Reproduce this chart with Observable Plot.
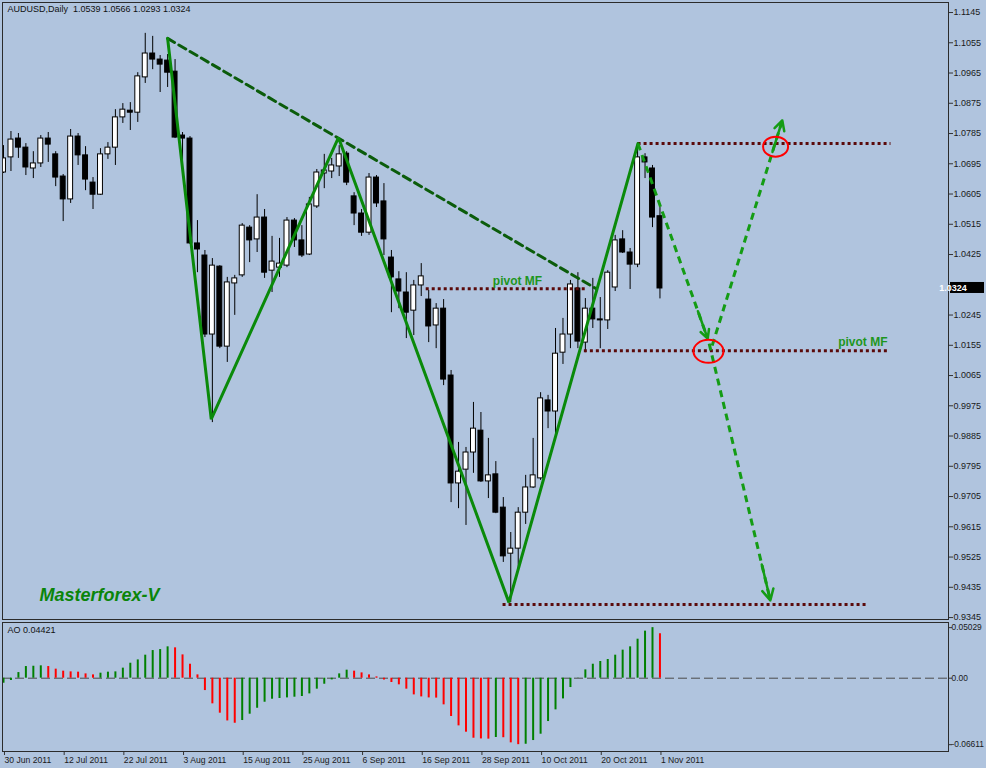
<!DOCTYPE html>
<html><head><meta charset="utf-8">
<script src="https://cdn.jsdelivr.net/npm/d3@7"></script>
<script src="https://cdn.jsdelivr.net/npm/@observablehq/plot@0.6"></script>
<style>
html,body{margin:0;padding:0;background:#B0C4DE;}
#chart{position:relative;width:986px;height:768px;overflow:hidden;}
#chart svg{display:block;}
</style></head><body><div id="chart"></div>
<script>
// ---- Data (AUDUSD daily, 30 Jun 2011 .. 1 Nov 2011), bar index 0..88 ----
const opens = [1.0669,1.0714,1.0770,1.0743,1.0681,1.0696,1.0770,1.0723,1.0657,1.0589,
1.0776,1.0720,1.0639,1.0603,1.0723,1.0743,1.0833,1.0853,1.0847,1.0952,
1.1023,1.1005,1.1002,1.0969,1.0779,1.0770,1.0458,1.0422,1.0187,1.0389,
1.0151,1.0339,1.0363,1.0505,1.0470,1.0535,1.0377,1.0386,1.0392,1.0526,
1.0467,1.0425,1.0568,1.0666,1.0672,1.0687,1.0725,1.0598,1.0547,1.0490,
1.0654,1.0583,1.0416,1.0351,1.0312,1.0258,1.0333,1.0291,1.0214,1.0264,
1.0065,0.9744,0.9785,0.9836,0.9901,0.9750,0.9771,0.9672,0.9535,0.9550,
0.9657,0.9732,0.9759,0.9991,0.9958,1.0133,1.0187,1.0324,1.0163,1.0264,
1.0232,1.0229,1.0327,1.0470,1.0431,1.0395,1.0714,1.0681,1.0539];
const highs = [1.0749,1.0791,1.0785,1.0755,1.0731,1.0779,1.0788,1.0731,1.0663,1.0797,
1.0785,1.0746,1.0654,1.0740,1.0758,1.0856,1.0874,1.0877,1.0966,1.1083,
1.1074,1.1017,1.1020,1.1005,1.0788,1.0776,1.0526,1.0437,1.0413,1.0392,
1.0357,1.0363,1.0517,1.0511,1.0603,1.0559,1.0479,1.0473,1.0535,1.0532,
1.0511,1.0595,1.0678,1.0723,1.0711,1.0749,1.0731,1.0609,1.0559,1.0666,
1.0660,1.0636,1.0437,1.0374,1.0371,1.0348,1.0398,1.0318,1.0279,1.0291,
1.0080,0.9866,0.9851,0.9985,0.9955,0.9878,0.9809,0.9702,0.9598,0.9672,
0.9768,0.9878,1.0014,1.0006,1.0205,1.0235,1.0348,1.0371,1.0294,1.0354,
1.0297,1.0377,1.0482,1.0496,1.0443,1.0755,1.0725,1.0690,1.0566];
const lows = [1.0666,1.0672,1.0711,1.0660,1.0651,1.0684,1.0699,1.0627,1.0523,1.0577,
1.0690,1.0615,1.0559,1.0601,1.0708,1.0690,1.0815,1.0794,1.0818,1.0934,
1.0975,1.0907,1.0922,1.0770,1.0705,1.0455,1.0371,1.0178,0.9925,1.0145,
1.0104,1.0244,1.0357,1.0401,1.0431,1.0354,1.0312,1.0357,1.0386,1.0446,
1.0416,1.0422,1.0562,1.0621,1.0651,1.0657,1.0630,1.0511,1.0479,1.0482,
1.0565,1.0422,1.0252,1.0264,1.0175,1.0184,1.0300,1.0163,1.0145,1.0035,
0.9687,0.9669,0.9619,0.9774,0.9747,0.9699,0.9654,0.9509,0.9390,0.9485,
0.9622,0.9729,0.9753,0.9907,0.9881,1.0098,1.0145,1.0145,1.0133,1.0205,
1.0145,1.0202,1.0315,1.0428,1.0321,1.0386,1.0651,1.0505,1.0293];
const closes = [1.0711,1.0767,1.0743,1.0684,1.0696,1.0770,1.0752,1.0654,1.0589,1.0776,
1.0720,1.0648,1.0603,1.0723,1.0743,1.0833,1.0856,1.0847,1.0955,1.1023,
1.1005,1.0990,1.0966,1.0773,1.0770,1.0458,1.0440,1.0187,1.0392,1.0151,
1.0342,1.0354,1.0511,1.0467,1.0535,1.0371,1.0404,1.0398,1.0526,1.0467,
1.0422,1.0574,1.0669,1.0675,1.0690,1.0723,1.0639,1.0547,1.0490,1.0654,
1.0577,1.0470,1.0357,1.0315,1.0252,1.0333,1.0360,1.0211,1.0264,1.0053,
0.9744,0.9779,0.9836,0.9907,0.9750,0.9768,0.9657,0.9527,0.9550,0.9657,
0.9732,0.9768,0.9997,0.9958,1.0130,1.0187,1.0336,1.0166,1.0264,1.0232,
1.0229,1.0371,1.0467,1.0431,1.0395,1.0714,1.0699,1.0535,1.0324];
// Awesome Oscillator values per bar
const aoValues = [-0.0050,-0.0023,0.0056,0.0116,0.0119,0.0123,0.0116,0.0090,0.0070,0.0063,
0.0060,0.0043,0.0033,0.0050,0.0060,0.0063,0.0100,0.0149,0.0182,0.0229,
0.0275,0.0285,0.0312,0.0302,0.0232,0.0139,0.0033,-0.0123,-0.0255,-0.0348,
-0.0425,-0.0448,-0.0421,-0.0358,-0.0299,-0.0239,-0.0209,-0.0202,-0.0196,-0.0189,
-0.0182,-0.0156,-0.0109,-0.0060,-0.0017,0.0043,0.0080,0.0070,0.0053,0.0033,
0.0013,-0.0018,-0.0043,-0.0066,-0.0109,-0.0166,-0.0186,-0.0196,-0.0198,-0.0265,
-0.0381,-0.0474,-0.0537,-0.0597,-0.0604,-0.0606,-0.0590,-0.0592,-0.0643,-0.0661,
-0.0657,-0.0620,-0.0557,-0.0431,-0.0315,-0.0206,-0.0093,0.0002,0.0083,0.0139,
0.0166,0.0186,0.0229,0.0279,0.0312,0.0388,0.0468,0.05029,0.04421];

const priceTicks = [1.1145,1.1055,1.0965,1.0875,1.0785,1.0695,1.0605,1.0515,1.0425,1.0335,
1.0245,1.0155,1.0065,0.9975,0.9885,0.9795,0.9705,0.9615,0.9525,0.9435,0.9345];
const aoTicks = [0.05029, 0, -0.06611];
const dateTickBars = [0,8,16,24,32,40,48,56,64,72,80,88];
const dateTickLabels = ["30 Jun 2011","12 Jul 2011","22 Jul 2011","3 Aug 2011","15 Aug 2011",
"25 Aug 2011","6 Sep 2011","16 Sep 2011","28 Sep 2011","10 Oct 2011","20 Oct 2011","1 Nov 2011"];

const titleText = "AUDUSD,Daily  1.0539 1.0566 1.0293 1.0324";
const aoTitle = "AO 0.04421";

// Annotation points (bar index, price)
const zigzag = [{i:22,p:1.1068},{i:27.85,p:0.9935},{i:44.9,p:1.0773},{i:67.75,p:0.9390},{i:85.05,p:1.0755}];
const trendLine = [{i:22,p:1.1068},{i:79.4,p:1.0324}];
const projections = [
  {i1:85.05,p1:1.0755,i2:94.4,p2:1.0175},
  {i1:95.0,p1:1.0154,i2:104.4,p2:1.0824},
  {i1:94.6,p1:1.0160,i2:102.8,p2:0.9396}
];
const pivotLevels = [
  {i1:56.6,i2:78.0,p:1.0323},
  {i1:77.8,i2:118.5,p:1.0139},
  {i1:85.0,i2:118.9,p:1.0755},
  {i1:66.9,i2:115.7,p:0.9384}
];
const circleTop = [{i:103.5,p:1.0746}];
const circleMid = [{i:94.5,p:1.0137}];
const pivotLabelMid = [{i:68.9,p:1.0345,t:"pivot MF"}];
const pivotLabelRight = [{i:118.5,p:1.0163,t:"pivot MF"}];
const brandLabel = [{i:4.83,p:0.9410,t:"Masterforex-V"}];

// ---- build ----
const candles = opens.map((o,i)=>({i,o,h:highs[i],l:lows[i],c:closes[i]}));
const aoData = aoValues.map((v,i)=>({i,v,up: i===0 || v > aoValues[i-1]}));
const xDomain = [-0.134, 126.68];
const font = "'Liberation Sans', Arial, sans-serif";
const bg = "#B0C4DE";

function ellipse(rx, ry){
  return {draw(ctx){
    const k=0.5523;
    ctx.moveTo(rx,0);
    ctx.bezierCurveTo(rx,k*ry,k*rx,ry,0,ry);
    ctx.bezierCurveTo(-k*rx,ry,-rx,k*ry,-rx,0);
    ctx.bezierCurveTo(-rx,-k*ry,-k*rx,-ry,0,-ry);
    ctx.bezierCurveTo(k*rx,-ry,rx,-k*ry,rx,0);
    ctx.closePath();
  }};
}
const frac = 0.86;
const pivotStyle = {x: "i", y: "p", text: "t", fill: "#1e961e", fontSize: 12, fontWeight: "bold"};

const main = Plot.plot({
  width: 986, height: 620,
  marginLeft: 2, marginRight: 38, marginTop: 2, marginBottom: 1,
  style: {background: bg, fontFamily: font, fontSize: "9px", color: "#1a1a1a", overflow: "visible"},
  x: {domain: xDomain, axis: null},
  y: {domain: [0.93392, 1.11748]},
  color: {type: "identity"},
  marks: [
    Plot.axisY(priceTicks, {anchor: "right", tickSize: 4, tickPadding: 1, tickFormat: d => d.toFixed(4), label: null, fill: "#1a1a1a", stroke: "#333"}),
    Plot.ruleX(candles, {x: "i", y1: "l", y2: "h", stroke: "#000", strokeWidth: 1, clip: true}),
    Plot.rect(candles, {x1: d => d.i - 0.33, x2: d => d.i + 0.33, y1: "o", y2: "c",
      fill: d => d.c >= d.o ? "#ffffff" : "#000000", stroke: "#000", strokeWidth: 1, clip: true}),
    Plot.link(pivotLevels, {x1: "i1", x2: "i2", y1: "p", y2: "p", stroke: "#5a0a0a", strokeWidth: 3, strokeDasharray: "3,3"}),
    Plot.line(trendLine, {x: "i", y: "p", stroke: "#0b5c0b", strokeWidth: 3, strokeDasharray: "8,5"}),
    Plot.line(zigzag, {x: "i", y: "p", stroke: "#0a8a0a", strokeWidth: 3, strokeLinejoin: "miter"}),
    Plot.link(projections, {x1: "i1", y1: "p1", x2: "i2", y2: "p2", stroke: "#149c14", strokeWidth: 3, strokeDasharray: "7,5"}),
    Plot.arrow(projections, {
      x1: d => d.i1 + frac*(d.i2-d.i1), y1: d => d.p1 + frac*(d.p2-d.p1),
      x2: "i2", y2: "p2", stroke: "#149c14", strokeWidth: 2.5, headLength: 11, headAngle: 55}),
    Plot.dot(circleTop, {x: "i", y: "p", r: 10, symbol: ellipse(12.5, 10), fill: "none", stroke: "#ff0000", strokeWidth: 2}),
    Plot.dot(circleMid, {x: "i", y: "p", r: 10, symbol: ellipse(15, 11.5), fill: "none", stroke: "#ff0000", strokeWidth: 2}),
    Plot.text(pivotLabelMid, {...pivotStyle, textAnchor: "middle"}),
    Plot.text(pivotLabelRight, {...pivotStyle, textAnchor: "end"}),
    Plot.text(brandLabel, {x: "i", y: "p", text: "t", textAnchor: "start", fill: "#0a850a", fontSize: 18, fontWeight: "bold", fontStyle: "italic"}),
    Plot.text([titleText], {text: d => d, frameAnchor: "top-left", dx: 5, dy: 3, fill: "#111", fontSize: 9}),
    Plot.frame({stroke: "#2b2b2b"})
  ]
});

// current price box on the right axis
{
  const last = closes[closes.length-1];
  const yy = main.scale("y").apply(last);
  const xr = main.scale("x").range[1];
  const g = d3.select(main).append("g");
  g.append("rect").attr("x", xr + 2).attr("y", yy - 6).attr("width", 34).attr("height", 11).attr("fill", "#000");
  g.append("text").attr("x", xr + 5).attr("y", yy + 3.3).attr("fill", "#fff")
    .attr("font-family", font).attr("font-size", 9).attr("font-weight", "bold").text(last.toFixed(4));
}

const aoPlot = Plot.plot({
  width: 986, height: 148,
  marginLeft: 2, marginRight: 38, marginTop: 2, marginBottom: 17,
  style: {background: bg, fontFamily: font, fontSize: "9px", color: "#1a1a1a", overflow: "visible"},
  x: {domain: xDomain, axis: null},
  y: {domain: [-0.0729, 0.0554]},
  color: {type: "identity"},
  marks: [
    Plot.ruleY([0], {stroke: "#4a4a4a", strokeWidth: 1, strokeDasharray: "9,4"}),
    Plot.ruleX(aoData, {x: "i", y1: 0, y2: "v", stroke: d => d.up ? "#008000" : "#ff0000", strokeWidth: 2}),
    Plot.axisY(aoTicks, {anchor: "right", tickSize: 3, tickPadding: 0, label: null, fontSize: 8.4,
      tickFormat: d => d === 0 ? "0.00" : d.toFixed(5), fill: "#1a1a1a", stroke: "#333"}),
    Plot.axisX(dateTickBars, {anchor: "bottom", tickSize: 4, tickPadding: 1, label: null, fontSize: 8.6,
      tickFormat: d => dateTickLabels[dateTickBars.indexOf(d)], textAnchor: "start", dx: 1, fill: "#1a1a1a", stroke: "#333"}),
    Plot.text([aoTitle], {text: d => d, frameAnchor: "top-left", dx: 5, dy: 4, fill: "#111", fontSize: 9}),
    Plot.frame({stroke: "#2b2b2b"})
  ]
});

const root = document.getElementById("chart");
root.appendChild(main);
root.appendChild(aoPlot);
</script>
</body></html>
